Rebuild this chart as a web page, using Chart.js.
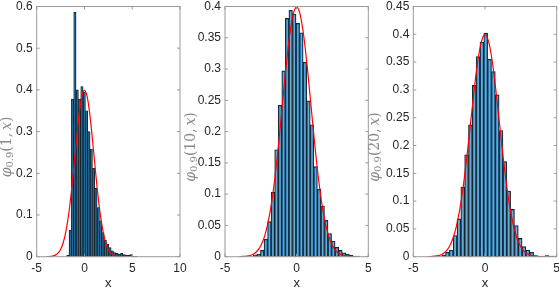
<!DOCTYPE html>
<html>
<head>
<meta charset="utf-8">
<script src="https://cdn.jsdelivr.net/npm/chart.js@4.4.1/dist/chart.umd.min.js"></script>
<style>
  html, body { margin: 0; padding: 0; background: #fff; }
  #wrap { position: relative; width: 559px; height: 291px; }
  #wrap canvas { position: absolute; left: 0; top: 0; }
</style>
</head>
<body>
<div id="wrap">
  <canvas id="c1" width="559" height="291"></canvas>
  <canvas id="c2" width="559" height="291"></canvas>
  <canvas id="c3" width="559" height="291"></canvas>
</div>
<script>
/* ── Data ── */

// red reference curve (same in all three panels)
var curveX = [-4, -3.75, -3.5, -3.25, -3, -2.75, -2.5, -2.25, -2, -1.75, -1.5, -1.25, -1, -0.75, -0.5, -0.25, 0,
              0.25, 0.5, 0.75, 1, 1.25, 1.5, 1.75, 2, 2.25, 2.5, 2.75, 3, 3.25, 3.5, 3.75, 4];
var curveY = [0.0001, 0.0004, 0.0009, 0.002, 0.0044, 0.0091, 0.0175, 0.0317, 0.054, 0.0863, 0.1295, 0.1826, 0.242, 0.3011, 0.3521, 0.3867, 0.3989,
              0.3867, 0.3521, 0.3011, 0.242, 0.1826, 0.1295, 0.0863, 0.054, 0.0317, 0.0175, 0.0091, 0.0044, 0.002, 0.0009, 0.0004, 0.0001];

// panel 1: phi_0.9(1, x)
var bins1 = [-1.7375, -1.4925, -1.2475, -1.0025, -0.7575, -0.5125, -0.2675, -0.0225, 0.2225, 0.4675,
             0.7125, 0.9575, 1.2025, 1.4475, 1.6925, 1.9375, 2.1825, 2.4275, 2.6725, 2.9175,
             3.1625, 3.4075, 3.6525, 3.8975, 4.1425, 4.3875, 4.6325, 4.8775, 5.1225, 5.3675];
var dens1 = [0.003, 0.064, 0.378, 0.586, 0.400, 0.378, 0.408, 0.395, 0.350, 0.300,
             0.258, 0.212, 0.164, 0.118, 0.086, 0.058, 0.040, 0.030, 0.022, 0.014,
             0.010, 0.008, 0.006, 0.008, 0.005, 0.004, 0.003, 0.005, 0.001, 0.001];
var xTicks1 = [-5, 0, 5, 10];
var yTicks1 = [0, 0.1, 0.2, 0.3, 0.4, 0.5, 0.6];

// panel 2: phi_0.9(10, x)
var bins2 = [-2.896, -2.648, -2.4, -2.152, -1.904, -1.656, -1.408, -1.16, -0.912, -0.664,
             -0.416, -0.168, 0.08, 0.328, 0.576, 0.824, 1.072, 1.32, 1.568, 1.816,
             2.064, 2.312, 2.56, 2.808, 3.056, 3.304, 3.552, 3.8, 4.048, 4.296];
var dens2 = [0.003, 0.004, 0.010, 0.028, 0.056, 0.103, 0.171, 0.242, 0.297, 0.381,
             0.394, 0.388, 0.373, 0.358, 0.311, 0.249, 0.211, 0.144, 0.108, 0.081,
             0.058, 0.037, 0.025, 0.015, 0.010, 0.006, 0.004, 0.002, 0.001, 0.001];
var xTicks2 = [-5, 0, 5];
var yTicks2 = [0, 0.05, 0.1, 0.15, 0.2, 0.25, 0.3, 0.35, 0.4];

// panel 3: phi_0.9(20, x)
var bins3 = [-2.8865, -2.6195, -2.3525, -2.0855, -1.8185, -1.5515, -1.2845, -1.0175, -0.7505, -0.4835,
             -0.2165, 0.0505, 0.3175, 0.5845, 0.8515, 1.1185, 1.3855, 1.6525, 1.9195, 2.1865,
             2.4535, 2.7205, 2.9875, 3.2545, 3.5215, 3.7885, 4.0555, 4.3225, 4.5895, 4.8565];
var dens3 = [0.003, 0.008, 0.012, 0.038, 0.068, 0.125, 0.183, 0.237, 0.308, 0.360,
             0.386, 0.402, 0.355, 0.333, 0.291, 0.227, 0.171, 0.118, 0.085, 0.056,
             0.033, 0.018, 0.012, 0.008, 0.002, 0.001, 0.001, 0.002, 0.001, 0.001];
var xTicks3 = [-5, 0, 5];
var yTicks3 = [0, 0.05, 0.1, 0.15, 0.2, 0.25, 0.3, 0.35, 0.4, 0.45];

/* ── Look ── */
var W = 559, H = 291;
var TICK_FONT = { family: '"Liberation Sans", Arial, sans-serif', size: 12 };
var TEXT_COL = '#262626';
var FRAME_COL = '#9a9a9a';
var Y_AXIS_W = 36;

function pts(xs, ys) {
  return xs.map(function(x, i) { return { x: x, y: ys[i] }; });
}

function fixTicks(list) {
  return function(s) { s.ticks = list.map(function(v) { return { value: v }; }); };
}

/* ── Frame, inward ticks and the LaTeX-like y label ── */
function framePlugin(sub, labelX) {
  return {
    id: 'frame',
    afterDraw: function(chart) {
      var ctx = chart.ctx, a = chart.chartArea;
      var xs = chart.scales.x, ys = chart.scales.y;
      ctx.save();
      ctx.strokeStyle = FRAME_COL;
      ctx.lineWidth = 1;
      ctx.strokeRect(a.left, a.top, a.right - a.left, a.bottom - a.top);
      ctx.beginPath();
      xs.ticks.forEach(function(t) {
        var px = xs.getPixelForValue(t.value);
        ctx.moveTo(px, a.bottom); ctx.lineTo(px, a.bottom - 3);
        ctx.moveTo(px, a.top); ctx.lineTo(px, a.top + 3);
      });
      ys.ticks.forEach(function(t) {
        var py = ys.getPixelForValue(t.value);
        ctx.moveTo(a.left, py); ctx.lineTo(a.left + 3, py);
        ctx.moveTo(a.right, py); ctx.lineTo(a.right - 3, py);
      });
      ctx.stroke();

      // y label: phi_{0.9}(sub, x), read bottom to top
      var big = '14px "DejaVu Serif", serif', bigIt = 'italic 14px "DejaVu Serif", serif';
      var small = '10px "DejaVu Serif", serif';
      var parts = [
        { t: '\u03C6', f: bigIt, dy: 0 },
        { t: '0.9', f: small, dy: 3.5 },
        { t: '(' + sub + ',\u2009', f: big, dy: 0 },
        { t: 'x', f: bigIt, dy: 0 },
        { t: ')', f: big, dy: 0 }
      ];
      var total = 0;
      parts.forEach(function(p) { ctx.font = p.f; p.w = ctx.measureText(p.t).width; total += p.w; });
      ctx.translate(labelX, 147);
      ctx.rotate(-Math.PI / 2);
      ctx.fillStyle = '#8a8a8a';
      ctx.textBaseline = 'middle';
      ctx.textAlign = 'left';
      var x = -total / 2;
      parts.forEach(function(p) { ctx.font = p.f; ctx.fillText(p.t, x, p.dy); x += p.w; });
      ctx.restore();
    }
  };
}

function histChart(id, bins, dens, xMin, xMax, xTicks, yMax, yTicks, box, sub, labelX) {
  return new Chart(document.getElementById(id), {
    type: 'bar',
    data: {
      datasets: [
        {
          type: 'line',
          data: pts(curveX, curveY),
          borderColor: '#ff0000',
          borderWidth: 1.2,
          pointRadius: 0,
          cubicInterpolationMode: 'monotone',
          order: 0
        },
        {
          type: 'bar',
          data: pts(bins, dens),
          backgroundColor: 'rgba(0,114,189,0.6)',
          borderColor: '#1a1a1a',
          borderWidth: 0.7,
          barPercentage: 1,
          categoryPercentage: 1,
          grouped: false,
          order: 1
        }
      ]
    },
    options: {
      responsive: false,
      animation: false,
      events: [],
      layout: { padding: { left: box.left - Y_AXIS_W, right: W - box.right, top: box.top, bottom: 0 } },
      plugins: { legend: { display: false }, tooltip: { enabled: false } },
      scales: {
        x: {
          type: 'linear', min: xMin, max: xMax, offset: false,
          grid: { display: false, drawTicks: false },
          border: { display: false },
          ticks: { font: TICK_FONT, color: TEXT_COL, padding: 5, maxRotation: 0 },
          afterBuildTicks: fixTicks(xTicks),
          afterFit: function(s) { s.height = H - box.bottom; s.paddingLeft = 0; s.paddingRight = 0; },
          title: { display: true, text: 'x', color: TEXT_COL, font: { family: TICK_FONT.family, size: 13 }, padding: 0 }
        },
        y: {
          min: 0, max: yMax,
          grid: { display: false, drawTicks: false },
          border: { display: false },
          ticks: {
            font: TICK_FONT, color: TEXT_COL, padding: 4,
            callback: function(v) { return String(+v.toFixed(2)); }
          },
          afterBuildTicks: fixTicks(yTicks),
          afterFit: function(s) { s.width = Y_AXIS_W; s.paddingTop = 0; s.paddingBottom = 0; }
        }
      }
    },
    plugins: [framePlugin(sub, labelX)]
  });
}

histChart('c1', bins1, dens1, -5, 10, xTicks1, 0.6, yTicks1, { left: 36.7, right: 180, top: 6.5, bottom: 256.7 }, '1', 7);
histChart('c2', bins2, dens2, -5, 5, xTicks2, 0.4, yTicks2, { left: 225, right: 368.3, top: 6.5, bottom: 256.7 }, '10', 191);
histChart('c3', bins3, dens3, -5, 5, xTicks3, 0.45, yTicks3, { left: 413.3, right: 556.7, top: 6.5, bottom: 256.7 }, '20', 375);
</script>
</body>
</html>
